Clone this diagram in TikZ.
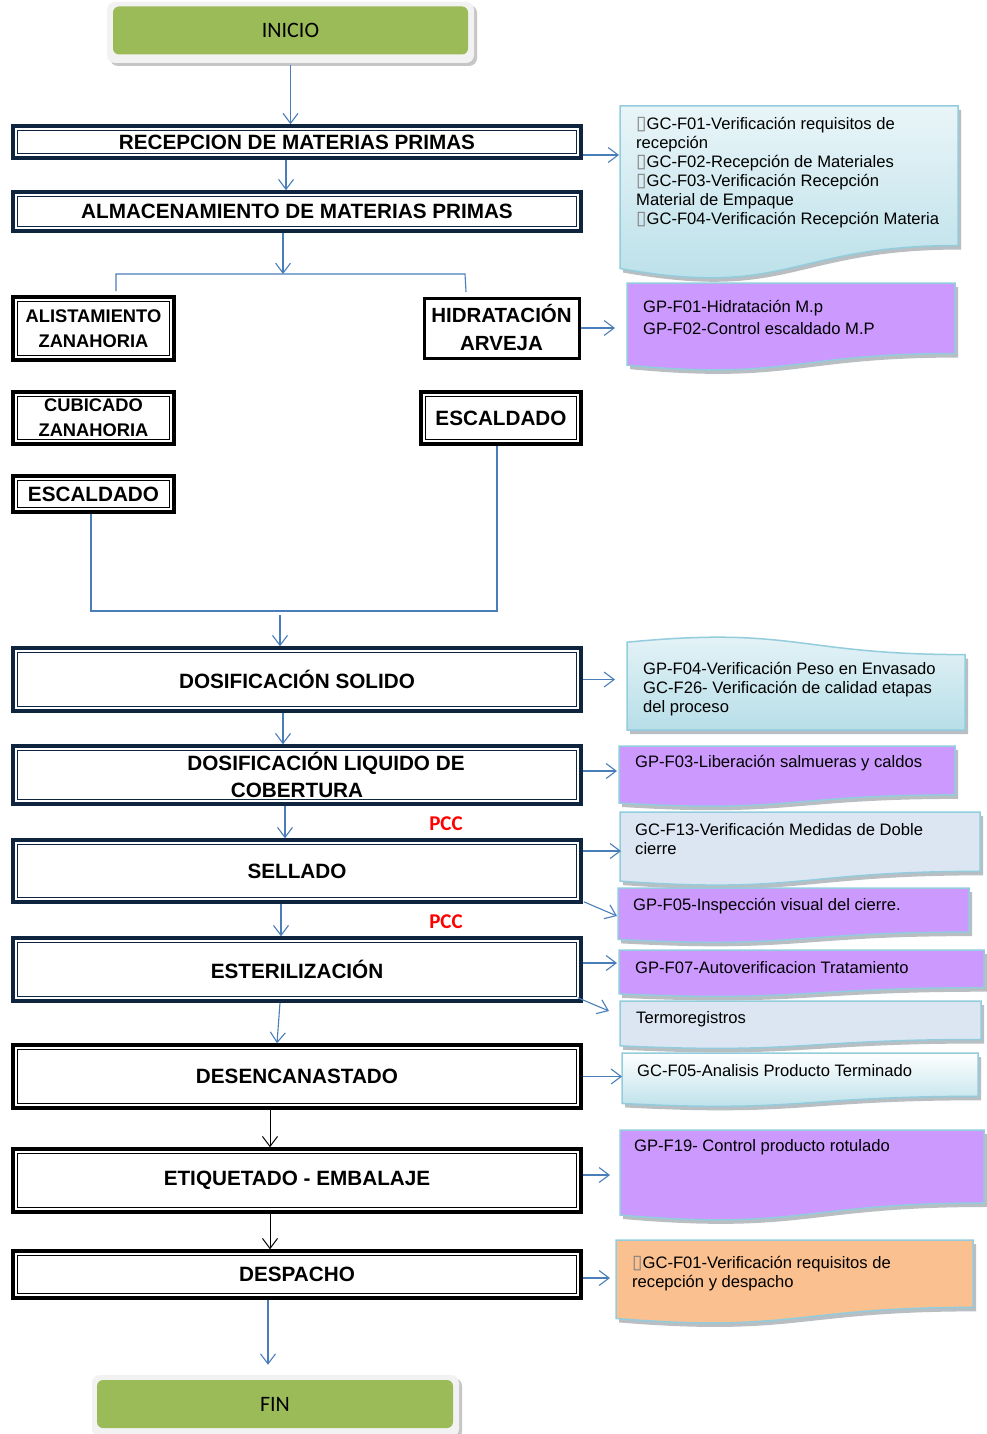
\documentclass[tikz,border=0pt]{standalone}
\usepackage{fontspec}
\setmainfont{Liberation Sans}
\newfontfamily\calib{Carlito}
\newfontfamily\djv{DejaVu Sans}
\usetikzlibrary{arrows.meta,calc}
\definecolor{navy}{HTML}{0F243E}
\definecolor{conblue}{HTML}{4A7EBB}
\definecolor{leafgreen}{HTML}{9BBB59}
\definecolor{lilac}{HTML}{CC99FF}
\definecolor{paleblue}{HTML}{DCE6F2}
\definecolor{aqua1}{HTML}{E9F5F8}
\definecolor{aqua2}{HTML}{B7DEE8}
\definecolor{peach}{HTML}{FAC08F}
\definecolor{docedge}{HTML}{93CDDD}
\definecolor{shadowgray}{HTML}{7F8A90}
\definecolor{pccred}{HTML}{FF0000}
\newcommand\missbox{{\djv\color{gray}\fontsize{19}{19}\selectfont ▯}}
\newcommand\docbox[5]{%
  \pgfmathsetmacro\dxm{(#1+#3)/2}%
  \pgfmathsetmacro\dyr{#2+0.802*#4}%
  \pgfmathsetmacro\dyl{#2+0.934*#4}%
  \pgfmathsetmacro\dyc{#2+1.1075*#4}%
  \fill[shadowgray, opacity=.55, shift={(3,4)}] (#1,#2) -- (#3,#2) -- (#3,\dyr) .. controls (\dxm,\dyr) and (\dxm,\dyc) .. (#1,\dyl) -- cycle;
  \path[draw=docedge, line width=1.5pt, #5] (#1,#2) -- (#3,#2) -- (#3,\dyr) .. controls (\dxm,\dyr) and (\dxm,\dyc) .. (#1,\dyl) -- cycle;
}
\newcommand\docboxflip[5]{%
  \pgfmathsetmacro\dxm{(#1+#3)/2}%
  \pgfmathsetmacro\dyb{#2+#4}%
  \pgfmathsetmacro\dyr{#2+#4-0.802*#4}%
  \pgfmathsetmacro\dyl{#2+#4-0.934*#4}%
  \pgfmathsetmacro\dyc{#2+#4-1.1075*#4}%
  \fill[shadowgray, opacity=.55, shift={(3,4)}] (#1,\dyb) -- (#3,\dyb) -- (#3,\dyr) .. controls (\dxm,\dyr) and (\dxm,\dyc) .. (#1,\dyl) -- cycle;
  \path[draw=docedge, line width=1.5pt, #5] (#1,\dyb) -- (#3,\dyb) -- (#3,\dyr) .. controls (\dxm,\dyr) and (\dxm,\dyc) .. (#1,\dyl) -- cycle;
}
\tikzset{
  stepbox/.style={draw=#1, line width=3.5pt, inner sep=0pt, fill=white, align=center,
    font=\fontsize{20.7}{27}\selectfont\bfseries,
    path picture={\draw[#1, line width=1.3pt] ([shift={(4.2pt,-4.2pt)}]path picture bounding box.north west) rectangle ([shift={(-4.2pt,4.2pt)}]path picture bounding box.south east);}},
  stepbox/.default=navy,
  smallbox/.style={stepbox=black, font=\fontsize{18.3}{25}\selectfont\bfseries},
  singlebox/.style={draw=black, line width=3pt, inner sep=0pt, fill=white, align=center, font=\fontsize{20.5}{28}\selectfont\bfseries},
  termbox/.style={fill=leafgreen, rounded corners=6pt, inner sep=0pt, font=\calib\fontsize{22}{22}\selectfont},
  doctext/.style={anchor=west, inner sep=0pt, align=left, font=\fontsize{16.6}{19}\selectfont},
  pcc/.style={text=pccred, inner sep=0pt, font=\calib\bfseries\fontsize{21}{21}\selectfont},
  arr/.style={draw=conblue, line width=1.1pt, -{Straight Barb[length=10pt,width=15pt]}},
  barr/.style={draw=black, line width=1pt, -{Straight Barb[length=10pt,width=15pt]}},
  conn/.style={draw=conblue, line width=1.1pt},
}
\begin{document}
\begin{tikzpicture}[x=1pt,y=-1pt]
\useasboundingbox (0,0) rectangle (987,1434);
\fill[white] (0,0) rectangle (987,1434);

% start / end frames
\fill[gray!45, rounded corners=8pt] (110,5) rectangle (477,66);
\fill[gray!10, rounded corners=8pt] (107,2) rectangle (474,63);
\node[termbox, minimum width=355pt, minimum height=48pt] (inicio) at (290.5,30.5) {INICIO};
\fill[gray!45, rounded corners=8pt] (95,1378) rectangle (462,1440);
\fill[gray!10, rounded corners=8pt] (92,1375) rectangle (459,1437);
\node[termbox, minimum width=356pt, minimum height=48pt] (fin) at (275,1404) {FIN};

% document shapes
\docbox{620}{106}{958}{174}{top color=aqua1, bottom color=aqua2}
\docbox{627}{283}{955}{88}{fill=lilac}
\docboxflip{627}{636}{965}{94}{top color=aqua1, bottom color=aqua2}
\docbox{619}{746}{955}{61}{fill=lilac}
\docbox{620}{812}{980}{74}{fill=paleblue}
\docbox{618}{888}{969}{55}{fill=lilac}
\docbox{619}{950}{984}{47}{fill=lilac}
\docbox{620}{1001}{981}{48}{fill=paleblue}
\docbox{622}{1053}{978}{54}{top color=white, bottom color=aqua2}
\docbox{620}{1130}{984}{91}{fill=lilac}
\docbox{616}{1240}{973}{84}{fill=peach}

% document texts
\node[doctext] (t1) at (636,172.5) {\missbox GC-F01-Verificación requisitos de\\recepción\\\missbox GC-F02-Recepción de Materiales\\\missbox GC-F03-Verificación Recepción\\Material de Empaque\\\missbox GC-F04-Verificación Recepción Materia};
\node[doctext, font=\fontsize{16.6}{22}\selectfont] (t2) at (643,317) {GP-F01-Hidratación M.p\\GP-F02-Control escaldado M.P};
\node[doctext] (t3) at (643,689) {GP-F04-Verificación Peso en Envasado\\GC-F26- Verificación de calidad etapas\\del proceso};
\node[doctext] (t4) at (635,763) {GP-F03-Liberación salmueras y caldos};
\node[doctext] (t5) at (635,839) {GC-F13-Verificación Medidas de Doble\\cierre};
\node[doctext] (t6) at (633,906) {GP-F05-Inspección visual del cierre.};
\node[doctext] (t7) at (635,968) {GP-F07-Autoverificacion Tratamiento};
\node[doctext] (t8) at (636,1019) {Termoregistros};
\node[doctext] (t9) at (637,1071) {GC-F05-Analisis Producto Terminado};
\node[doctext] (t10) at (634,1147) {GP-F19- Control producto rotulado};
\node[doctext] (t11) at (632,1273.5) {\missbox GC-F01-Verificación requisitos de\\recepción y despacho};

% process boxes
\node[stepbox, minimum width=568pt, minimum height=32pt] (recep) at (297,142) {RECEPCION DE MATERIAS PRIMAS};
\node[stepbox, minimum width=568pt, minimum height=39pt] (almac) at (297,211.5) {ALMACENAMIENTO DE MATERIAS PRIMAS};
\node[smallbox, minimum width=161pt, minimum height=63pt] (alist) at (93.5,328.5) {ALISTAMIENTO\\ZANAHORIA};
\node[smallbox, minimum width=161pt, minimum height=52pt] (cubic) at (93.5,418) {CUBICADO\\ZANAHORIA};
\node[stepbox=black, minimum width=161pt, minimum height=36pt] (escL) at (93.5,494) {ESCALDADO};
\node[singlebox, minimum width=155pt, minimum height=60pt] (hidra) at (501.5,328) {HIDRATACIÓN\\ARVEJA};
\node[stepbox=black, minimum width=160pt, minimum height=52pt] (escR) at (501,418) {ESCALDADO};
\node[stepbox, minimum width=568pt, minimum height=63pt] (dsol) at (297,679.5) {DOSIFICACIÓN SOLIDO};
\node[stepbox, minimum width=568pt, minimum height=58pt] (dliq) at (297,775) {\hspace*{58pt}DOSIFICACIÓN LIQUIDO DE\\COBERTURA};
\node[stepbox, minimum width=568pt, minimum height=62pt] (sell) at (297,871) {SELLADO};
\node[stepbox, minimum width=568pt, minimum height=63pt] (ester) at (297,969.5) {ESTERILIZACIÓN};
\node[stepbox=black, minimum width=568pt, minimum height=63pt] (desen) at (297,1076.5) {DESENCANASTADO};
\node[stepbox=black, minimum width=568pt, minimum height=63pt] (etiq) at (297,1180.5) {ETIQUETADO - EMBALAJE};
\node[stepbox=black, minimum width=568pt, minimum height=47pt] (desp) at (297,1274.5) {DESPACHO};

\node[pcc] (pcc1) at (446,824) {PCC};
\node[pcc] (pcc2) at (446,922) {PCC};

% connector end points
\coordinate (d1in) at (619,155);
\coordinate (d2in) at (615,328);
\coordinate (d4in) at (615,679.5);
\coordinate (d5in) at (617,771);
\coordinate (d6in) at (621,851);
\coordinate (d7in) at (617,916);
\coordinate (d8in) at (617,963);
\coordinate (d9in) at (609,1011);
\coordinate (d10in) at (622,1076.5);
\coordinate (d11in) at (610,1175);
\coordinate (d12in) at (610,1278);
\coordinate (brmid) at (283,274);
\coordinate (brL) at (116,291);
\coordinate (brR) at (466,292);
\coordinate (jn) at (280,611);
\coordinate (finin) at ([xshift=-7pt,yshift=15pt]fin.north);

% connectors
\draw[arr] ([yshift=-10pt]inicio.south) -- (inicio.south |- recep.north);
\draw[arr] ([xshift=-11pt]recep.south) -- ([xshift=-11pt]almac.north);
\draw[arr] (recep.east |- d1in) -- (d1in);
\draw[arr] ([xshift=-14pt]almac.south) -- ([xshift=-14pt]almac.south |- brmid);
\draw[conn] (brL) -- (brL |- brmid) -- (brmid) -- ([xshift=-1pt]brR |- brmid) -- (brR);
\draw[arr] (hidra.east) -- (d2in);
\draw[conn] ([xshift=-2.5pt]escL.south) |- (jn) -| ([xshift=-4pt]escR.south);
\draw[arr] ([yshift=-4pt]jn) -- (jn |- dsol.north);
\draw[arr] (dsol.east) -- (d4in);
\draw[arr] ([xshift=-14pt]dsol.south) -- ([xshift=-14pt]dliq.north);
\draw[arr] (dliq.east |- d5in) -- (d5in);
\draw[arr] ([xshift=-12pt]dliq.south) -- ([xshift=-12pt]sell.north);
\draw[arr] (sell.east |- d6in) -- (d6in);
\draw[arr] ([shift={(1pt,2pt)}]sell.south east) -- (d7in);
\draw[arr] ([xshift=-16pt]sell.south) -- ([xshift=-16pt]ester.north);
\draw[arr] (ester.east |- d8in) -- (d8in);
\draw[arr] ([shift={(-5pt,5pt)}]ester.south east) -- (d9in);
\draw[arr] ([xshift=-17pt]ester.south) -- ([xshift=-20pt]desen.north);
\draw[arr] (desen.east) -- (d10in);
\draw[barr] ([xshift=-27pt]desen.south) -- ([xshift=-27pt]etiq.north);
\draw[arr] (etiq.east |- d11in) -- (d11in);
\draw[barr] ([xshift=-27pt]etiq.south) -- ([xshift=-27pt]desp.north);
\draw[arr] (desp.east |- d12in) -- (d12in);
\draw[arr] (desp.south -| finin) -- (finin);
\end{tikzpicture}
\end{document}
